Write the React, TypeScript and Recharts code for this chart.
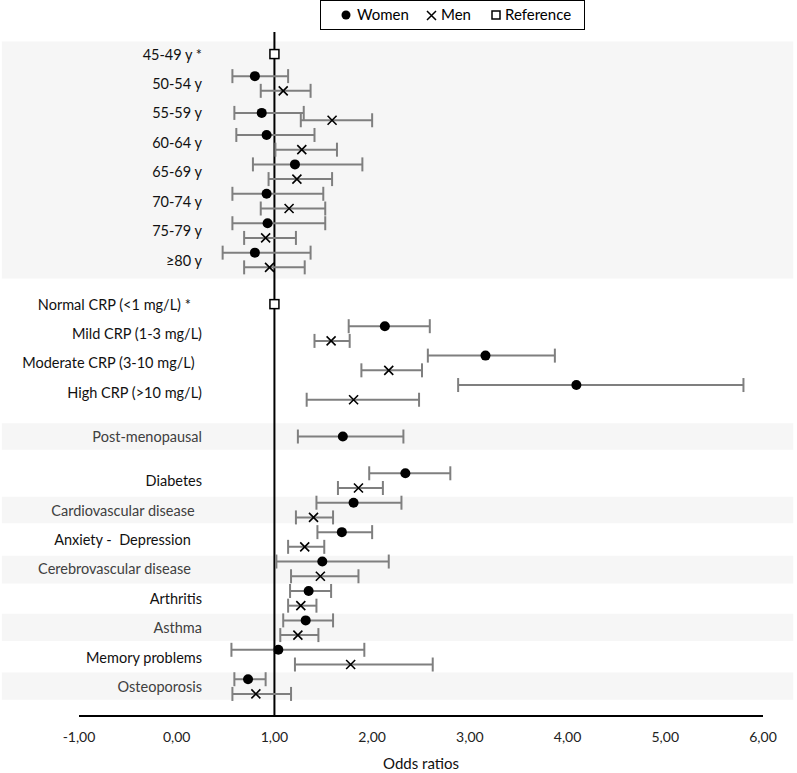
import React from "react";
import {
  ScatterChart,
  Scatter,
  XAxis,
  YAxis,
  ErrorBar,
  ReferenceLine,
  ReferenceArea,
  Legend,
} from "recharts";

const FONT = "Lato, 'Open Sans', sans-serif";

// Row labels and their vertical position (half-row units, 0 = top row)
const rowLabels = [
  "45-49 y *",
  "50-54 y",
  "55-59 y",
  "60-64 y",
  "65-69 y",
  "70-74 y",
  "75-79 y",
  "≥80 y",
  "Normal CRP (<1 mg/L) *   ",
  "Mild CRP (1-3 mg/L)",
  "Moderate CRP (3-10 mg/L)  ",
  "High CRP (>10 mg/L)",
  "Post-menopausal",
  "Diabetes",
  "Cardiovascular disease  ",
  "Anxiety -  Depression   ",
  "Cerebrovascular disease   ",
  "Arthritis",
  "Asthma",
  "Memory problems",
  "Osteoporosis",
];
const rowPos = [0, 2, 4, 6, 8, 10, 12, 14, 17, 19, 21, 23, 26, 29, 31, 33, 35, 37, 39, 41, 43];
const mutedRows = ["Post-menopausal", "Cardiovascular disease  ", "Cerebrovascular disease   ", "Asthma", "Osteoporosis"];

// shaded bands behind groups of rows
const bandFrom = [-0.85, 25.1, 30.1, 34.1, 38.05, 42.05];
const bandTo = [15.25, 26.9, 31.9, 36.0, 39.9, 43.9];

// Women: odds ratio with 95% CI
const womenRow = [1.5, 4, 5.5, 7.5, 9.5, 11.5, 13.5, 18.5, 20.5, 22.5, 26, 28.5, 30.5, 32.5, 34.5, 36.5, 38.5, 40.5, 42.5];
const womenOR = [0.8, 0.87, 0.92, 1.21, 0.92, 0.93, 0.8, 2.13, 3.16, 4.09, 1.7, 2.34, 1.81, 1.69, 1.49, 1.35, 1.32, 1.04, 0.73];
const womenLow = [0.57, 0.59, 0.61, 0.78, 0.57, 0.57, 0.47, 1.76, 2.57, 2.88, 1.24, 1.97, 1.43, 1.44, 1.02, 1.16, 1.09, 0.56, 0.59];
const womenHigh = [1.14, 1.3, 1.41, 1.9, 1.5, 1.52, 1.37, 2.59, 3.87, 5.8, 2.32, 2.8, 2.3, 2.0, 2.17, 1.58, 1.6, 1.92, 0.91];

// Men
const menRow = [2.5, 4.5, 6.5, 8.5, 10.5, 12.5, 14.5, 19.5, 21.5, 23.5, 29.5, 31.5, 33.5, 35.5, 37.5, 39.5, 41.5, 43.5];
const menOR = [1.09, 1.59, 1.28, 1.23, 1.15, 0.91, 0.95, 1.58, 2.17, 1.81, 1.86, 1.4, 1.31, 1.47, 1.27, 1.24, 1.78, 0.81];
const menLow = [0.86, 1.27, 1.01, 0.94, 0.86, 0.69, 0.69, 1.41, 1.89, 1.33, 1.65, 1.22, 1.14, 1.17, 1.14, 1.06, 1.21, 0.57];
const menHigh = [1.37, 2.0, 1.64, 1.59, 1.52, 1.22, 1.31, 1.77, 2.51, 2.48, 2.11, 1.6, 1.51, 1.86, 1.43, 1.45, 2.62, 1.17];

// Reference categories
const refRow = [0, 17];
const refOR = [1, 1];

const xTicks = [-1, 0, 1, 2, 3, 4, 5, 6];

const toPoints = (rows: number[], or: number[], lo?: number[], hi?: number[]) =>
  rows.map((y, i) => ({
    x: or[i],
    y,
    err: lo && hi ? [or[i] - lo[i], hi[i] - or[i]] : [0, 0],
  }));

const womenData = toPoints(womenRow, womenOR, womenLow, womenHigh);
const menData = toPoints(menRow, menOR, menLow, menHigh);
const refData = toPoints(refRow, refOR);

const RowTick = (props: any) => {
  const { x, y, payload } = props;
  const label = rowLabels[rowPos.indexOf(payload.value)] ?? "";
  return (
    <text
      x={x + 123}
      y={y}
      textAnchor="end"
      dominantBaseline="central"
      fontFamily={FONT}
      fontSize={14.5}
      fill={mutedRows.includes(label) ? "#404040" : "#111"}
      style={{ whiteSpace: "pre" }}
    >
      {label}
    </text>
  );
};

const WomenDot = (p: any) => <circle cx={p.cx} cy={p.cy} r={5} fill="#000" />;

const MenCross = (p: any) => (
  <path
    d={`M${p.cx - 4.5},${p.cy - 4.5}L${p.cx + 4.5},${p.cy + 4.5}M${p.cx - 4.5},${p.cy + 4.5}L${p.cx + 4.5},${p.cy - 4.5}`}
    stroke="#000"
    strokeWidth={1.6}
    fill="none"
  />
);

const RefSquare = (p: any) => (
  <rect x={p.cx - 4.5} y={p.cy - 4.5} width={9} height={9} fill="#fff" stroke="#000" strokeWidth={1.5} />
);

const LegendBox = () => (
  <div
    style={{
      position: "relative",
      boxSizing: "border-box",
      width: 265,
      height: 30,
      border: "1.5px solid #000",
      background: "#fff",
      fontFamily: FONT,
      fontSize: 15,
      color: "#000",
    }}
  >
    <svg width={265} height={27} style={{ position: "absolute", left: 0, top: 0 }}>
      <circle cx={25} cy={14} r={4.5} fill="#000" />
      <path d="M106,10L115,19M106,19L115,10" stroke="#000" strokeWidth={1.5} />
      <rect x={171} y={10} width={8} height={8} fill="#fff" stroke="#000" strokeWidth={1.5} />
    </svg>
    <span style={{ position: "absolute", left: 36, top: 4 }}>Women</span>
    <span style={{ position: "absolute", left: 120, top: 4 }}>Men</span>
    <span style={{ position: "absolute", left: 184, top: 4 }}>Reference</span>
  </div>
);

export default function App() {
  return (
    <div style={{ position: "absolute", left: 0, top: 0, background: "#fff" }}>
      <ScatterChart width={797} height={773} margin={{ top: 2, right: 34, bottom: 4, left: 0 }}>
        <Legend
          verticalAlign="top"
          align="left"
          content={() => <LegendBox />}
          wrapperStyle={{ left: 320, top: 0, width: 265 }}
        />
        <XAxis
          type="number"
          dataKey="x"
          domain={[-1, 6]}
          ticks={xTicks}
          tickFormatter={(v: number) => v.toFixed(2).replace(".", ",")}
          tickLine={false}
          tickSize={0}
          tickMargin={16}
          height={53}
          axisLine={{ stroke: "#000", strokeWidth: 2 }}
          tick={{ fill: "#222", fontSize: 14, fontFamily: FONT }}
          label={{
            value: "Odds ratios",
            position: "insideBottom",
            offset: 0,
            fill: "#111",
            fontSize: 15,
            fontFamily: FONT,
          }}
        />
        <YAxis
          type="number"
          dataKey="y"
          domain={[-1.5, 45]}
          reversed
          ticks={rowPos}
          interval={0}
          width={79}
          axisLine={false}
          tickLine={false}
          tickSize={0}
          tickMargin={0}
          tick={<RowTick />}
        />
        {bandFrom.map((b, i) => (
          <ReferenceArea
            key={i}
            x1={-1.79}
            x2={6.31}
            y1={b}
            y2={bandTo[i]}
            fill="#f6f6f6"
            fillOpacity={1}
            stroke="none"
            ifOverflow="visible"
          />
        ))}
        <ReferenceLine x={1} stroke="#000" strokeWidth={2} />
        <Scatter name="Women" data={womenData} shape={<WomenDot />} isAnimationActive={false}>
          <ErrorBar dataKey="err" direction="x" width={7} stroke="#7f7f7f" strokeWidth={2} />
        </Scatter>
        <Scatter name="Men" data={menData} shape={<MenCross />} isAnimationActive={false}>
          <ErrorBar dataKey="err" direction="x" width={7} stroke="#7f7f7f" strokeWidth={2} />
        </Scatter>
        <Scatter name="Reference" data={refData} shape={<RefSquare />} isAnimationActive={false} />
      </ScatterChart>
    </div>
  );
}
